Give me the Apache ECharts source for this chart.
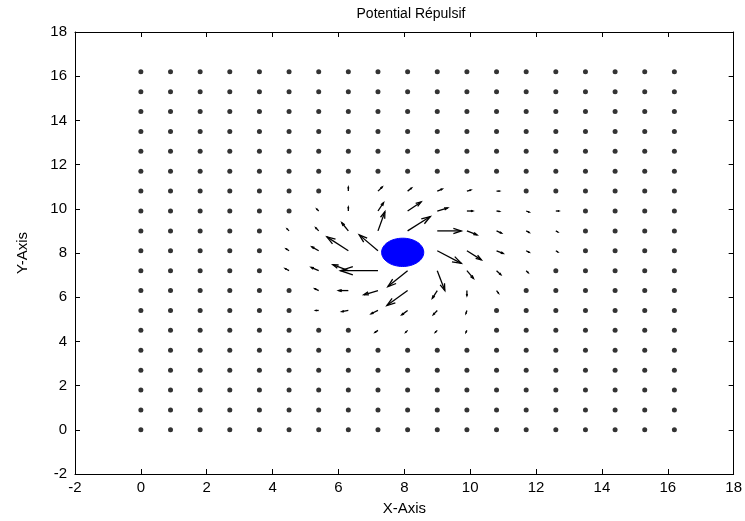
<!DOCTYPE html>
<html>
<head>
<meta charset="utf-8">
<title>Potential Répulsif</title>
<script src="https://cdn.jsdelivr.net/npm/echarts@6/dist/echarts.min.js"></script>
<style>
    html, body { margin: 0; padding: 0; background: #fff; }
    #chart { width: 745px; height: 521px; }
</style>
</head>
<body>
<div id="chart"></div>
<script>
// grid positions (same on x and y)
const gridSteps = [0, 0.9, 1.8, 2.7, 3.6, 4.5, 5.4, 6.3, 7.2, 8.1, 9, 9.9, 10.8, 11.7, 12.6, 13.5, 14.4, 15.3, 16.2]

// visible arrows: position and vector (data units)
const arrowX = [6.3, 7.2, 8.1, 9, 9.9, 10.8,
    5.4, 6.3, 7.2, 8.1, 9, 9.9, 10.8, 11.7, 12.6,
    4.5, 5.4, 6.3, 7.2, 8.1, 9, 9.9, 10.8, 11.7, 12.6,
    4.5, 5.4, 6.3, 7.2, 9, 9.9, 10.8, 11.7, 12.6,
    4.5, 5.4, 6.3, 7.2, 8.1, 9, 9.9, 10.8, 11.7,
    5.4, 6.3, 7.2, 8.1, 9, 9.9, 10.8,
    5.4, 6.3, 7.2, 8.1, 9, 9.9,
    7.2, 8.1, 9, 9.9]
const arrowY = [10.8, 10.8, 10.8, 10.8, 10.8, 10.8,
    9.9, 9.9, 9.9, 9.9, 9.9, 9.9, 9.9, 9.9, 9.9,
    9, 9, 9, 9, 9, 9, 9, 9, 9, 9,
    8.1, 8.1, 8.1, 8.1, 8.1, 8.1, 8.1, 8.1, 8.1,
    7.2, 7.2, 7.2, 7.2, 7.2, 7.2, 7.2, 7.2, 7.2,
    6.3, 6.3, 6.3, 6.3, 6.3, 6.3, 6.3,
    5.4, 5.4, 5.4, 5.4, 5.4, 5.4,
    4.5, 4.5, 4.5, 4.5]
const arrowU = [0, 0.13, 0.12, 0.15, 0.12, 0.09,
    -0.06, 0, 0.17, 0.41, 0.32, 0.18, 0.09, 0.09, 0.09,
    -0.06, -0.09, -0.2, 0.21, 0.69, 0.73, 0.31, 0.15, 0.09, 0.06,
    -0.09, -0.21, -0.65, -0.57, 0.73, 0.44, 0.2, 0.09, 0.06,
    -0.12, -0.23, -0.47, -1.14, -0.6, 0.23, 0.2, 0.13, 0.06,
    -0.12, -0.3, -0.43, -0.63, -0.15, 0, 0.06,
    -0.09, -0.2, -0.21, -0.18, -0.12, -0.03,
    -0.09, -0.06, -0.06, -0.03]
const arrowV = [0.18, 0.19, 0.14, 0.09, 0.05, 0,
    0.09, 0.18, 0.38, 0.41, 0.14, 0, -0.02, -0.05, 0,
    0.09, 0.14, 0.37, 0.87, 0.65, 0, -0.18, -0.1, -0.07, -0.05,
    0.09, 0.18, 0.63, 0.72, -0.57, -0.41, -0.12, -0.07, -0.05,
    0.1, 0.15, 0.27, 0, -0.72, -0.9, -0.35, -0.18, -0.09,
    0.09, 0, -0.19, -0.68, -0.35, -0.23, -0.12,
    0, -0.05, -0.15, -0.2, -0.19, -0.14,
    -0.09, -0.09, -0.09, -0.09]

// obstacle
const obstacleCenter = [7.95, 8.03]
const obstacleRadius = 0.64

let font = 'Liberation Sans, Arial, sans-serif'

let arrowData = arrowX.map((x, i) => [x, arrowY[i], arrowU[i], arrowV[i]])
let taken = new Set(arrowData.map(d => d[0] + '_' + d[1]))
taken.add('8.1_8.1')
let dotData = []
gridSteps.forEach(y => {
    gridSteps.forEach(x => {
        if (!taken.has(x + '_' + y)) dotData.push([x, y])
    })
})

function renderArrow(params, api) {
    let x = api.value(0), y = api.value(1)
    let p0 = api.coord([x, y])
    let p1 = api.coord([x + api.value(2), y + api.value(3)])
    let dx = p1[0] - p0[0], dy = p1[1] - p0[1]
    // arrow head like matlab quiver
    let a = 0.33, b = 0.33
    let h1 = [p1[0] - a * (dx + b * dy), p1[1] - a * (dy - b * dx)]
    let h2 = [p1[0] - a * (dx - b * dy), p1[1] - a * (dy + b * dx)]
    let style = { stroke: '#000', lineWidth: 1.3, fill: null }
    return {
        type: 'group',
        children: [
            { type: 'polyline', shape: { points: [p0, p1] }, style: style },
            { type: 'polyline', shape: { points: [h1, p1, h2] }, style: style }
        ]
    }
}

function renderObstacle(params, api) {
    let cx = api.value(0), cy = api.value(1), r = api.value(2)
    let pts = []
    for (let k = 0; k < 64; k++) {
        let t = k / 64 * Math.PI * 2
        pts.push(api.coord([cx + r * Math.cos(t), cy + r * Math.sin(t)]))
    }
    return { type: 'polygon', shape: { points: pts }, style: { fill: '#0000ff', stroke: '#0000ff' } }
}

let axisCommon = {
    type: 'value',
    min: -2,
    max: 18,
    interval: 2,
    splitLine: { show: false },
    axisLine: { show: true, onZero: false, lineStyle: { color: '#000', width: 1 } },
    axisTick: { show: true, inside: true, length: 5, lineStyle: { color: '#000' } }
}

let myChart = echarts.init(document.getElementById('chart'), null, { renderer: 'canvas' })
let option = {
    animation: false,
    backgroundColor: '#fff',
    title: {
        text: 'Potential Répulsif',
        left: 406,
        top: 2,
        textAlign: 'center',
        textStyle: { fontFamily: font, fontSize: 14, fontWeight: 'normal', color: '#000' }
    },
    grid: { left: 75, right: 7, top: 32, bottom: 45, containLabel: false },
    xAxis: [
        Object.assign({}, axisCommon, {
            position: 'bottom',
            name: 'X-Axis',
            nameLocation: 'middle',
            nameGap: 27,
            nameTextStyle: { fontFamily: font, fontSize: 15, color: '#000' },
            axisLabel: { fontFamily: font, fontSize: 15, color: '#000', margin: 6 }
        }),
        Object.assign({}, axisCommon, { position: 'top', axisLabel: { show: false } })
    ],
    yAxis: [
        Object.assign({}, axisCommon, {
            position: 'left',
            name: 'Y-Axis',
            nameLocation: 'middle',
            nameGap: 45,
            nameTextStyle: { fontFamily: font, fontSize: 15, color: '#000' },
            axisLabel: { fontFamily: font, fontSize: 15, color: '#000', margin: 8 }
        }),
        Object.assign({}, axisCommon, { position: 'right', axisLabel: { show: false } })
    ],
    series: [
        {
            type: 'scatter',
            data: dotData,
            symbol: 'circle',
            symbolSize: 5,
            itemStyle: { color: '#000' },
            silent: true
        },
        {
            type: 'custom',
            renderItem: renderArrow,
            data: arrowData,
            clip: false,
            silent: true
        },
        {
            type: 'custom',
            renderItem: renderObstacle,
            data: [[obstacleCenter[0], obstacleCenter[1], obstacleRadius]],
            silent: true
        }
    ]
}
myChart.setOption(option)
</script>
</body>
</html>
